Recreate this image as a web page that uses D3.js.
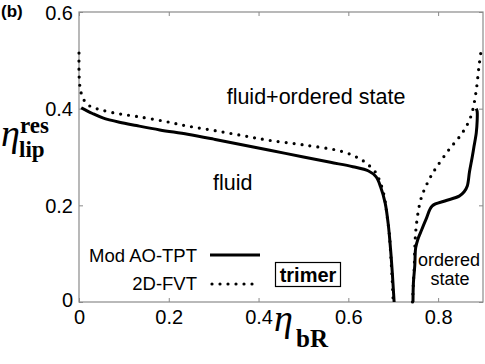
<!DOCTYPE html>
<html><head><meta charset="utf-8">
<script src="https://cdn.jsdelivr.net/npm/d3@7"></script>
<style>
html,body{margin:0;padding:0;background:#fff;}
svg{display:block;}
text{font-family:"Liberation Sans",Arial,Helvetica,sans-serif;}
.serif{font-family:"Liberation Serif","Times New Roman",serif;}
</style></head>
<body>
<svg id="c" width="485" height="364"></svg>
<script>
// Data
const xTicks = [0, 0.2, 0.4, 0.6, 0.8];
const xTickLabels = ["0", "0.2", "0.4", "0.6", "0.8"];
const yTicks = [0, 0.2, 0.4, 0.6];
const yTickLabels = ["0", "0.2", "0.4", "0.6"];
const seriesNames = ["Mod AO-TPT", "2D-FVT"];

const modAoTptLeft = [[0.005,0.402],[0.015,0.397],[0.03,0.39],[0.053,0.381],[0.09,0.372],[0.128,0.365],[0.18,0.356],[0.242,0.347],[0.30,0.337],[0.36,0.326],[0.425,0.314],[0.50,0.300],[0.56,0.289],[0.61,0.280],[0.645,0.271],[0.662,0.259],[0.672,0.238],[0.682,0.205],[0.689,0.16],[0.694,0.11],[0.698,0.06],[0.700,0.03],[0.702,0.0]];
const modAoTptRight = [[0.744,0.0],[0.745,0.04],[0.748,0.075],[0.750,0.112],[0.755,0.13],[0.761,0.144],[0.773,0.171],[0.787,0.199],[0.815,0.209],[0.847,0.219],[0.858,0.228],[0.865,0.240],[0.870,0.27],[0.876,0.30],[0.880,0.322],[0.885,0.35],[0.887,0.375],[0.887,0.394],[0.885,0.40]];
const fvtLeft = [[0.0,0.515],[0.0,0.48],[0.001,0.455],[0.003,0.44],[0.006,0.429],[0.013,0.415],[0.025,0.405],[0.047,0.398],[0.085,0.39],[0.128,0.384],[0.19,0.374],[0.242,0.364],[0.30,0.355],[0.36,0.345],[0.42,0.335],[0.50,0.325],[0.584,0.312],[0.62,0.299],[0.639,0.288],[0.661,0.268],[0.672,0.245],[0.680,0.219],[0.686,0.18],[0.691,0.144],[0.695,0.09],[0.698,0.041],[0.700,0.0]];
const fvtRight = [[0.743,0.0],[0.745,0.04],[0.747,0.075],[0.748,0.11],[0.750,0.144],[0.753,0.17],[0.758,0.199],[0.764,0.22],[0.773,0.24],[0.785,0.262],[0.798,0.281],[0.824,0.315],[0.854,0.35],[0.873,0.384],[0.884,0.432],[0.891,0.487],[0.895,0.515]];

const svg = d3.select("#c");
const L = 79, R = 483, T = 12, B = 302;
const x = d3.scaleLinear().domain([0, 0.9]).range([L, R]);
const y = d3.scaleLinear().domain([0, 0.6]).range([B, T]);
const gray = "#8a8a8a";

// frame
svg.append("rect").attr("x", L).attr("y", T).attr("width", R - L).attr("height", B - T)
  .attr("fill", "none").attr("stroke", gray).attr("stroke-width", 1.2);

// axes with inward ticks
const xAxis = d3.axisBottom(x).tickValues(xTicks).tickSize(-4).tickFormat((d, i) => xTickLabels[i]).tickPadding(8);
const gx = svg.append("g").attr("transform", `translate(0,${B})`).call(xAxis);
const yAxis = d3.axisLeft(y).tickValues(yTicks).tickSize(-4).tickFormat((d, i) => yTickLabels[i]).tickPadding(6);
const gy = svg.append("g").attr("transform", `translate(${L},0)`).call(yAxis);
const gxt = svg.append("g").attr("transform", `translate(0,${T})`).call(d3.axisTop(x).tickValues(xTicks).tickSize(-4).tickFormat(""));
const gyr = svg.append("g").attr("transform", `translate(${R},0)`).call(d3.axisRight(y).tickValues(yTicks).tickSize(-4).tickFormat(""));
[gx, gy, gxt, gyr].forEach(g => {
  g.select(".domain").remove();
  g.selectAll(".tick line").attr("stroke", gray).attr("stroke-width", 1);
  g.selectAll("text").attr("fill", "#000").style("font-size", "20px");
});
gx.selectAll(".tick text").attr("dy", "0.71em");
gy.selectAll(".tick text").attr("dy", "0.36em");
gy.selectAll(".tick text").filter((d) => d === 0).attr("dy", "0.2em");

// curves
const line = d3.line().x(d => x(d[0])).y(d => y(d[1])).curve(d3.curveCatmullRom.alpha(0.5));
[modAoTptLeft, modAoTptRight].forEach(s => {
  svg.append("path").attr("d", line(s)).attr("fill", "none").attr("stroke", "#000")
    .attr("stroke-width", 3).attr("stroke-linejoin", "round");
});
[fvtLeft, fvtRight].forEach(s => {
  svg.append("path").attr("d", line(s)).attr("fill", "none").attr("stroke", "#000")
    .attr("stroke-width", 3.2).attr("stroke-linecap", "round").attr("stroke-dasharray", "0,8");
});

// legend
svg.append("text").attr("x", 197).attr("y", 262).attr("text-anchor", "end").style("font-size", "18.5px").text(seriesNames[0]);
svg.append("line").attr("x1", 210).attr("x2", 260).attr("y1", 255).attr("y2", 255).attr("stroke", "#000").attr("stroke-width", 3);
svg.append("text").attr("x", 197).attr("y", 290).attr("text-anchor", "end").style("font-size", "18.5px").text(seriesNames[1]);
svg.append("line").attr("x1", 212).attr("x2", 260).attr("y1", 284).attr("y2", 284).attr("stroke", "#000")
  .attr("stroke-width", 3.2).attr("stroke-linecap", "round").attr("stroke-dasharray", "0,8");

// trimer box
svg.append("rect").attr("x", 275.5).attr("y", 262.5).attr("width", 65).attr("height", 24)
  .attr("fill", "#fff").attr("stroke", "#000").attr("stroke-width", 1.2);
svg.append("text").attr("x", 308).attr("y", 282).attr("text-anchor", "middle").style("font-size", "20px").style("font-weight", "bold").text("trimer");

// region labels
svg.append("text").attr("x", 316).attr("y", 104).attr("text-anchor", "middle").style("font-size", "21.5px").text("fluid+ordered state");
svg.append("text").attr("x", 213).attr("y", 190).style("font-size", "21.5px").text("fluid");
svg.append("text").attr("x", 449).attr("y", 266).attr("text-anchor", "middle").style("font-size", "18px").text("ordered");
svg.append("text").attr("x", 450).attr("y", 285).attr("text-anchor", "middle").style("font-size", "18px").text("state");

// panel label
svg.append("text").attr("x", 1).attr("y", 17).style("font-size", "17px").style("font-weight", "bold").text("(b)");

// y axis label
svg.append("text").attr("class", "serif").attr("x", 1).attr("y", 146).style("font-size", "38px").style("font-style", "italic").text("η");
svg.append("text").attr("class", "serif").attr("x", 20).attr("y", 133).style("font-size", "23px").style("font-weight", "bold").text("res");
svg.append("text").attr("class", "serif").attr("x", 19).attr("y", 157).style("font-size", "23px").style("font-weight", "bold").text("lip");

// x axis label
svg.append("text").attr("class", "serif").attr("x", 274).attr("y", 331).style("font-size", "38px").style("font-style", "italic").text("η");
svg.append("text").attr("class", "serif").attr("x", 296).attr("y", 347).style("font-size", "25px").style("font-weight", "bold").text("bR");
</script>
</body></html>
